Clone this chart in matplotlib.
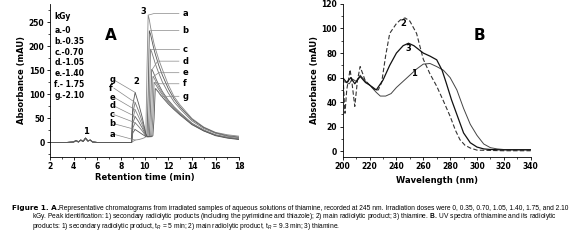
import matplotlib.pyplot as plt
from matplotlib.ticker import MultipleLocator

# --- panel A: chromatograms ---
t_early = [2.0, 3.4, 4.0, 4.2, 4.4, 4.6, 4.8, 5.0, 5.2, 5.4, 5.6, 6.0, 8.8]
y_early = [0, 0, 1, 4, 1, 5, 2, 9, 3, 5, 1, 0, 0]

t_late = [8.9, 9.0, 9.2, 9.5, 9.8, 10.0, 10.1, 10.2, 10.3, 10.4, 10.5, 10.6, 10.7,
          10.8, 10.9, 11.0, 11.2, 11.5, 12.0, 12.5, 13.0, 14.0, 15.0, 16.0, 17.0, 18.0]
chrom = {
    'a': [0, 2, 5, 6, 8, 10, 12, 150, 265, 255, 240, 228, 216, 205, 196, 188, 172, 152, 120, 95, 78, 50, 32, 21, 16, 13],
    'b': [0, 20, 27, 22, 17, 14, 12, 12, 100, 232, 225, 214, 203, 193, 184, 176, 160, 140, 112, 90, 74, 48, 31, 20, 14, 11],
    'c': [0, 30, 41, 33, 24, 17, 14, 12, 12, 80, 194, 188, 180, 172, 164, 157, 144, 126, 103, 84, 70, 45, 29, 19, 13, 10],
    'd': [0, 40, 54, 43, 30, 20, 15, 12, 12, 13, 70, 152, 148, 142, 136, 130, 120, 106, 88, 74, 62, 40, 26, 16, 11, 8],
    'e': [0, 50, 68, 53, 36, 23, 16, 12, 12, 12, 14, 60, 137, 134, 129, 124, 115, 103, 86, 72, 60, 39, 25, 15, 10, 7],
    'f': [0, 62, 83, 65, 43, 26, 17, 12, 12, 12, 12, 14, 55, 125, 122, 118, 110, 99, 83, 70, 59, 38, 24, 15, 10, 7],
    'g': [0, 78, 104, 80, 52, 30, 18, 13, 12, 12, 12, 12, 14, 50, 112, 110, 104, 94, 80, 68, 57, 37, 24, 14, 9, 6],
}
doses = ['0', '0.35', '0.70', '1.05', '1.40', ' 1.75', '2.10']
# label heights on the right (peak 3) and left (peak 2)
right_lab_y = [268, 233, 194, 169, 145, 122, 96]
left_lab_y = [17, 39, 58, 76, 94, 113, 130]

# --- panel B: UV spectra ---
wl1 = [200, 203, 205, 207, 210, 213, 217, 220, 225, 228, 232, 236, 240, 245, 250, 255, 260, 265,
       270, 275, 280, 285, 290, 295, 300, 305, 310, 315, 320, 330, 340]
ab1 = [57, 56, 55, 59, 57, 62, 57, 54, 48, 45, 45, 47, 52, 57, 62, 67, 71, 71.5,
       69, 66, 60, 50, 35, 22, 13, 6, 3, 2, 1.5, 1.5, 1.5]
wl2 = [200, 201.7, 203, 205.5, 207, 209, 211, 213, 216.6, 220, 224, 226.5, 229, 232, 235, 240, 243,
       246.4, 250, 255, 260, 265, 270, 275, 280, 284, 287.3, 291, 295, 300, 320, 340]
ab2 = [65, 31, 50, 66.5, 55, 36.6, 58, 69, 58, 54, 50, 50, 56, 78, 96, 104, 107,
       108.6, 106, 96, 75, 63, 53, 41, 28.5, 17, 9.5, 5, 2.7, 1, 0.5, 0.5]
wl3 = [200, 203, 206, 209, 213, 217, 220, 225, 230, 235, 240, 245, 249, 253, 260, 265, 270, 274,
       277, 281, 285, 290, 295, 300, 305, 310, 320, 340]
ab3 = [60, 56, 60, 55, 61, 56, 54, 50, 58, 70, 80, 86, 88, 86, 80, 77.5, 74.5, 66,
       56, 42, 30, 15, 7, 3.5, 2, 1.5, 1.2, 1.2]

plt.rcParams['font.family'] = ['DejaVu Sans']
plt.rcParams['mathtext.fontset'] = 'custom'
plt.rcParams['mathtext.rm'] = 'Liberation Sans'
plt.rcParams['mathtext.it'] = 'Liberation Sans:italic'
plt.rcParams['mathtext.bf'] = 'Liberation Sans:bold'

fig = plt.figure(figsize=(5.75, 2.44), dpi=100)

axA = fig.add_axes([0.087, 0.357, 0.329, 0.627])
axB = fig.add_axes([0.596, 0.357, 0.327, 0.627])

greys = ['#888888', '#555555', '#777777', '#666666', '#888888', '#777777', '#555555']
t_all = t_early + t_late
for i, (k, ys) in enumerate(chrom.items()):
    axA.plot(t_all, y_early + ys, color=greys[i], lw=0.6)

# leader lines + letters
for i, k in enumerate(chrom):
    ys = chrom[k]
    j3 = ys.index(max(ys[8:]))
    px, py = t_late[j3], ys[j3]
    ly = right_lab_y[i]
    axA.plot([px + 0.05, px + 0.5, 12.9], [py, ly, ly], color='#888888', lw=0.5)
    axA.text(13.2, ly, k, fontsize=6, fontweight='bold', va='center')
    p2x, p2y = t_late[2], ys[2]
    lly = left_lab_y[i]
    axA.plot([7.4, p2x], [lly, p2y], color='#888888', lw=0.5)
    axA.text(7.0, lly, k, fontsize=6, fontweight='bold', va='center')

axA.text(5.0, 18, '1', fontsize=6, fontweight='bold', ha='center')
axA.text(9.3, 122, '2', fontsize=6, fontweight='bold', ha='center')
axA.text(9.9, 268, '3', fontsize=6, fontweight='bold', ha='center')
axA.text(7.1, 223, 'A', fontsize=11, fontweight='bold', ha='center', va='center')
axA.text(2.35, 261, 'kGy', fontsize=5.5, fontweight='bold', va='center')
for i, k in enumerate(chrom):
    axA.text(2.35, 233 - i * 22.5, f'{k}.-{doses[i]}', fontsize=5.5, fontweight='bold', va='center')

axA.set_xlim(2, 18)
axA.set_ylim(-30, 288)
axA.xaxis.set_major_locator(MultipleLocator(2))
axA.xaxis.set_minor_locator(MultipleLocator(1))
axA.yaxis.set_major_locator(MultipleLocator(50))
axA.yaxis.set_minor_locator(MultipleLocator(25))
axA.set_xlabel('Retention time (min)', fontsize=6, fontweight='bold', labelpad=1)
axA.set_ylabel('Absorbance (mAU)', fontsize=6, fontweight='bold', labelpad=2)

axB.plot(wl1, ab1, color='#444444', lw=0.7)
axB.plot(wl2, ab2, color='#333333', lw=0.8, ls=(0, (4, 2)))
axB.plot(wl3, ab3, color='#111111', lw=0.9)
axB.text(245, 104, '2', fontsize=6, fontweight='bold', ha='center', va='center')
axB.text(249, 83.5, '3', fontsize=6, fontweight='bold', ha='center', va='center')
axB.text(253, 63, '1', fontsize=6, fontweight='bold', ha='center', va='center')
axB.text(301.5, 94, 'B', fontsize=11, fontweight='bold', ha='center', va='center')
axB.set_xlim(200, 340)
axB.set_ylim(-4.5, 120)
axB.xaxis.set_major_locator(MultipleLocator(20))
axB.xaxis.set_minor_locator(MultipleLocator(10))
axB.yaxis.set_major_locator(MultipleLocator(20))
axB.yaxis.set_minor_locator(MultipleLocator(10))
axB.set_xlabel('Wavelength (nm)', fontsize=6, fontweight='bold', labelpad=3)
axB.set_ylabel('Absorbance (mAU)', fontsize=6, fontweight='bold', labelpad=2)

for ax in (axA, axB):
    for s in ('top', 'right'):
        ax.spines[s].set_visible(False)
    for s in ('left', 'bottom'):
        ax.spines[s].set_linewidth(0.6)
    ax.tick_params(which='major', direction='out', length=2.5, width=0.6, labelsize=5.5, pad=1.5)
    ax.tick_params(which='minor', direction='out', length=1.5, width=0.5)
    for lab in ax.get_xticklabels() + ax.get_yticklabels():
        lab.set_fontweight('bold')

cap_font = ['Liberation Sans']
fig.text(12 / 575, 1 - 208 / 244, 'Figure 1. A.', fontsize=5.2, fontweight='bold', va='center', family='DejaVu Sans')
fig.text(59 / 575, 1 - 208 / 244,
         'Representative chromatograms from irradiated samples of aqueous solutions of thiamine, '
         'recorded at 245 nm. Irradiation doses were 0, 0.35, 0.70, 1.05, 1.40, 1.75, and 2.10',
         fontsize=4.75, va='center', family=cap_font)
fig.text(32 / 575, 1 - 217 / 244,
         'kGy. Peak identification: 1) secondary radiolytic products (including the pyrimidine and thiazole); '
         '2) main radiolytic product; 3) thiamine. $\\mathbf{B.}$ UV spectra of thiamine and its radiolytic',
         fontsize=4.8, va='center', family=cap_font)
fig.text(32 / 575, 1 - 226.5 / 244,
         'products: 1) secondary radiolytic product, t$_R$ = 5 min; 2) main radiolytic product, '
         't$_R$ = 9.3 min; 3) thiamine.',
         fontsize=4.8, va='center', family=cap_font)

fig.savefig('out.png', dpi=100)
